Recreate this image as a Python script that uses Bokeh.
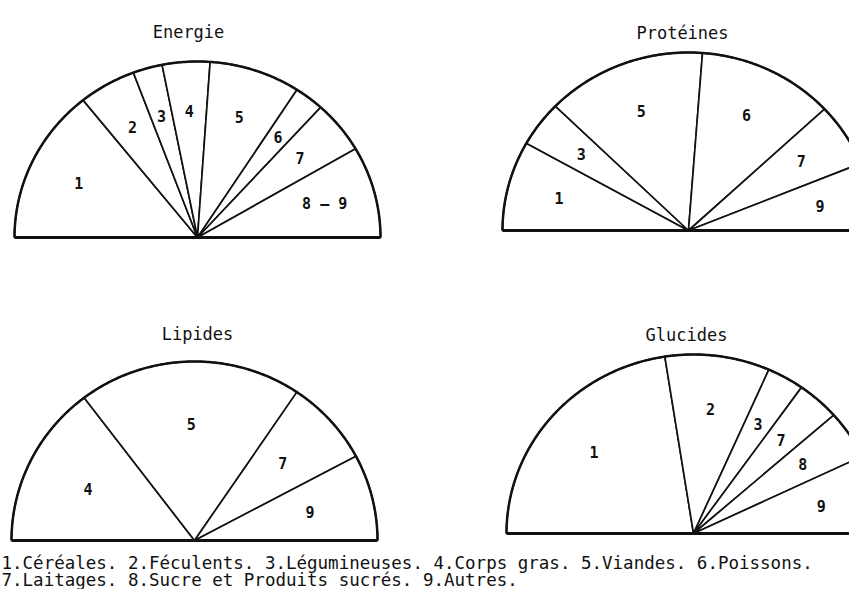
import numpy as np
from bokeh.plotting import figure
from bokeh.models import Range1d
from bokeh.core.properties import value
from bokeh.embed import file_html
from bokeh.resources import INLINE

# ---- data (percent of the half-circle) ----
titles = ["Energie", "Protéines", "Lipides", "Glucides"]

energie_cats = ["1", "2", "3", "4", "5", "6", "7", "8 – 9"]
energie_vals = [28.5, 10.1, 5.2, 8.4, 16.1, 5.2, 9.7, 16.8]

proteines_cats = ["1", "3", "5", "6", "7", "9"]
proteines_vals = [16.3, 8.3, 27.8, 23.7, 11.6, 12.3]

lipides_cats = ["4", "5", "7", "9"]
lipides_vals = [29.4, 39.5, 15.5, 15.6]

glucides_cats = ["1", "2", "3", "7", "8", "9"]
glucides_vals = [45.1, 18.1, 6.4, 7.4, 8.8, 14.2]

legend_lines = [
    "1.Céréales. 2.Féculents. 3.Légumineuses. 4.Corps gras. 5.Viandes. 6.Poissons.",
    "7.Laitages. 8.Sucre et Produits sucrés. 9.Autres.",
]

# ---- layout (picture pixel coordinates, origin top-left) ----
W, H = 849, 589
def Y(py):
    return H - py

charts = [
    # cats, vals, center x, center y, rx, ry, title x, title baseline, label radius
    (energie_cats, energie_vals, 197, 237, 183, 176, 188, 31, 0.72),
    (proteines_cats, proteines_vals, 688, 230, 186, 178, 682, 32, 0.72),
    (lipides_cats, lipides_vals, 194, 540, 183, 179, 197, 333, 0.65),
    (glucides_cats, glucides_vals, 693, 533, 187, 179, 686, 334, 0.70),
]

MONO = value("DejaVu Sans Mono")
INK = "#111111"

p = figure(width=W, height=H, x_range=Range1d(0, W), y_range=Range1d(0, H),
           output_backend="svg", toolbar_location=None, min_border=0)
p.axis.visible = False
p.grid.visible = False
p.outline_line_color = None
p.background_fill_color = "white"
p.border_fill_color = "white"

for (cats, vals, cx, cy, rx, ry, tx, ty, lr), title in zip(charts, titles):
    cyd = Y(cy)
    vals = np.asarray(vals, dtype=float)
    frac = vals / vals.sum()
    edges = np.pi - np.pi * np.concatenate([[0.0], np.cumsum(frac)])
    xs, ys, lx, ly = [], [], [], []
    for a0, a1 in zip(edges[:-1], edges[1:]):
        t = np.linspace(a0, a1, 80)
        xs.append([cx] + list(cx + rx * np.cos(t)))
        ys.append([cyd] + list(cyd + ry * np.sin(t)))
        m = 0.5 * (a0 + a1)
        lx.append(cx + lr * rx * np.cos(m))
        ly.append(cyd + lr * ry * np.sin(m))
    p.patches(xs, ys, fill_color="white", line_color=INK, line_width=1.7)
    t = np.linspace(0, np.pi, 300)
    p.line(cx + rx * np.cos(t), cyd + ry * np.sin(t), line_color=INK, line_width=2.5)
    p.line([cx - rx, cx + rx], [cyd, cyd], line_color=INK, line_width=3)
    p.text(lx, ly, text=cats, text_font=MONO, text_font_size="15px", text_font_style="bold",
           text_align="center", text_baseline="middle", text_color=INK)
    p.text([tx], [Y(ty)], text=[title], text_font=MONO, text_font_size="17px",
           text_align="center", text_baseline="alphabetic", text_color=INK)

p.text([1, 1], [Y(562), Y(579)], text=legend_lines, text_font=MONO, text_font_size="17.5px",
       text_align="left", text_baseline="alphabetic", text_color=INK)

open("out.html", "w").write(file_html(p, INLINE))
